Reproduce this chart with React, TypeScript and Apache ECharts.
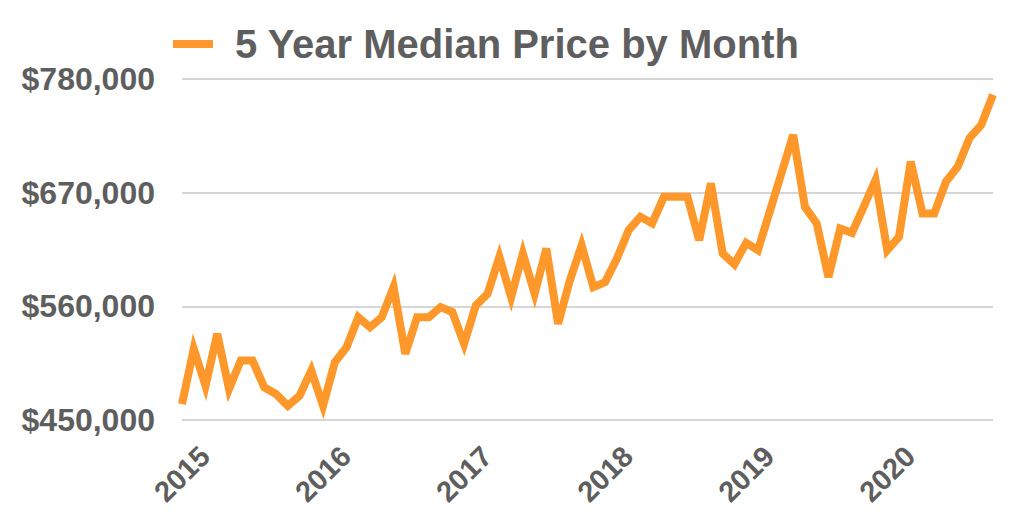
import React, { useEffect, useRef } from "react";
import * as echarts from "echarts";

const seriesName = "5 Year Median Price by Month";
const years = [2015, 2016, 2017, 2018, 2019, 2020];
const monthsShown = 70; // Jan 2015 – Oct 2020
const months: string[] = [];
for (const y of years) {
  for (let m = 1; m <= 12; m++) {
    if (months.length < monthsShown) months.push(`${y}-${String(m).padStart(2, "0")}`);
  }
}

const medianPrice = [
  465400, 518800, 483200, 533400, 480000, 507500, 507500, 481600, 475100, 463800, 473500, 497800,
  463800, 505800, 520400, 549500, 539800, 549500, 578600, 514000, 549500, 549500, 559300, 554400,
  523700, 560900, 572200, 607800, 568900, 611100, 572200, 615900, 543100, 585100, 619100, 578600,
  583500, 606200, 633700, 646600, 640200, 666000, 666000, 666000, 624000, 679000, 611100, 600700,
  621400, 614300, 651500, 688700, 725900, 656300, 640200, 588300, 635300, 631100, 656300, 682200,
  614300, 627200, 700000, 649900, 649900, 680600, 695100, 722700, 735600, 764800,
];

const yTicks = [450000, 560000, 670000, 780000];

const FONT = '"Liberation Sans", Arial, Helvetica, sans-serif';
const TEXT = "#5e5e5e";
const ORANGE = "#fe982b";

export default function App() {
  const ref = useRef<HTMLDivElement>(null);
  useEffect(() => {
    if (!ref.current) return;
    const chart = echarts.init(ref.current, undefined, { renderer: "svg" });
    chart.setOption({
      animation: false,
      backgroundColor: "#ffffff",
      legend: {
        left: 168,
        top: 19,
        icon: "rect",
        itemWidth: 40,
        itemHeight: 8,
        selectedMode: false,
        data: [seriesName],
        textStyle: {
          fontSize: 40,
          fontWeight: "bold",
          fontFamily: FONT,
          color: TEXT,
          padding: [0, 0, 0, 17],
        },
      },
      grid: { left: 182, right: 31, top: 79, bottom: 105, containLabel: false },
      xAxis: {
        type: "category",
        data: months,
        boundaryGap: false,
        axisLine: { show: false },
        axisTick: { show: false },
        splitLine: { show: false },
        axisLabel: {
          interval: (index: number) => index % 12 === 0,
          formatter: (v: string) => v.slice(0, 4),
          rotate: 45,
          align: "center",
          verticalAlign: "middle",
          margin: 54,
          fontSize: 29,
          fontWeight: "bold",
          fontFamily: FONT,
          color: TEXT,
        },
      },
      yAxis: {
        type: "value",
        min: 450000,
        max: 780000,
        axisLine: { show: false },
        axisTick: { show: false, customValues: yTicks },
        splitLine: { show: true, lineStyle: { color: "#c9c9c9", width: 1.5 } },
        axisLabel: {
          customValues: yTicks,
          formatter: (v: number) => "$" + v.toLocaleString("en-US"),
          margin: 27,
          fontSize: 32,
          fontWeight: "bold",
          fontFamily: FONT,
          color: TEXT,
        },
      },
      series: [
        {
          name: seriesName,
          type: "line",
          data: medianPrice,
          symbol: "none",
          showSymbol: false,
          color: ORANGE,
          lineStyle: { color: ORANGE, width: 8, join: "miter", miterLimit: 10 },
          emphasis: { disabled: true },
        },
      ],
    });
    return () => chart.dispose();
  }, []);
  return (
    <div
      ref={ref}
      style={{ position: "absolute", left: 0, top: 0, width: 1024, height: 525 }}
    />
  );
}
